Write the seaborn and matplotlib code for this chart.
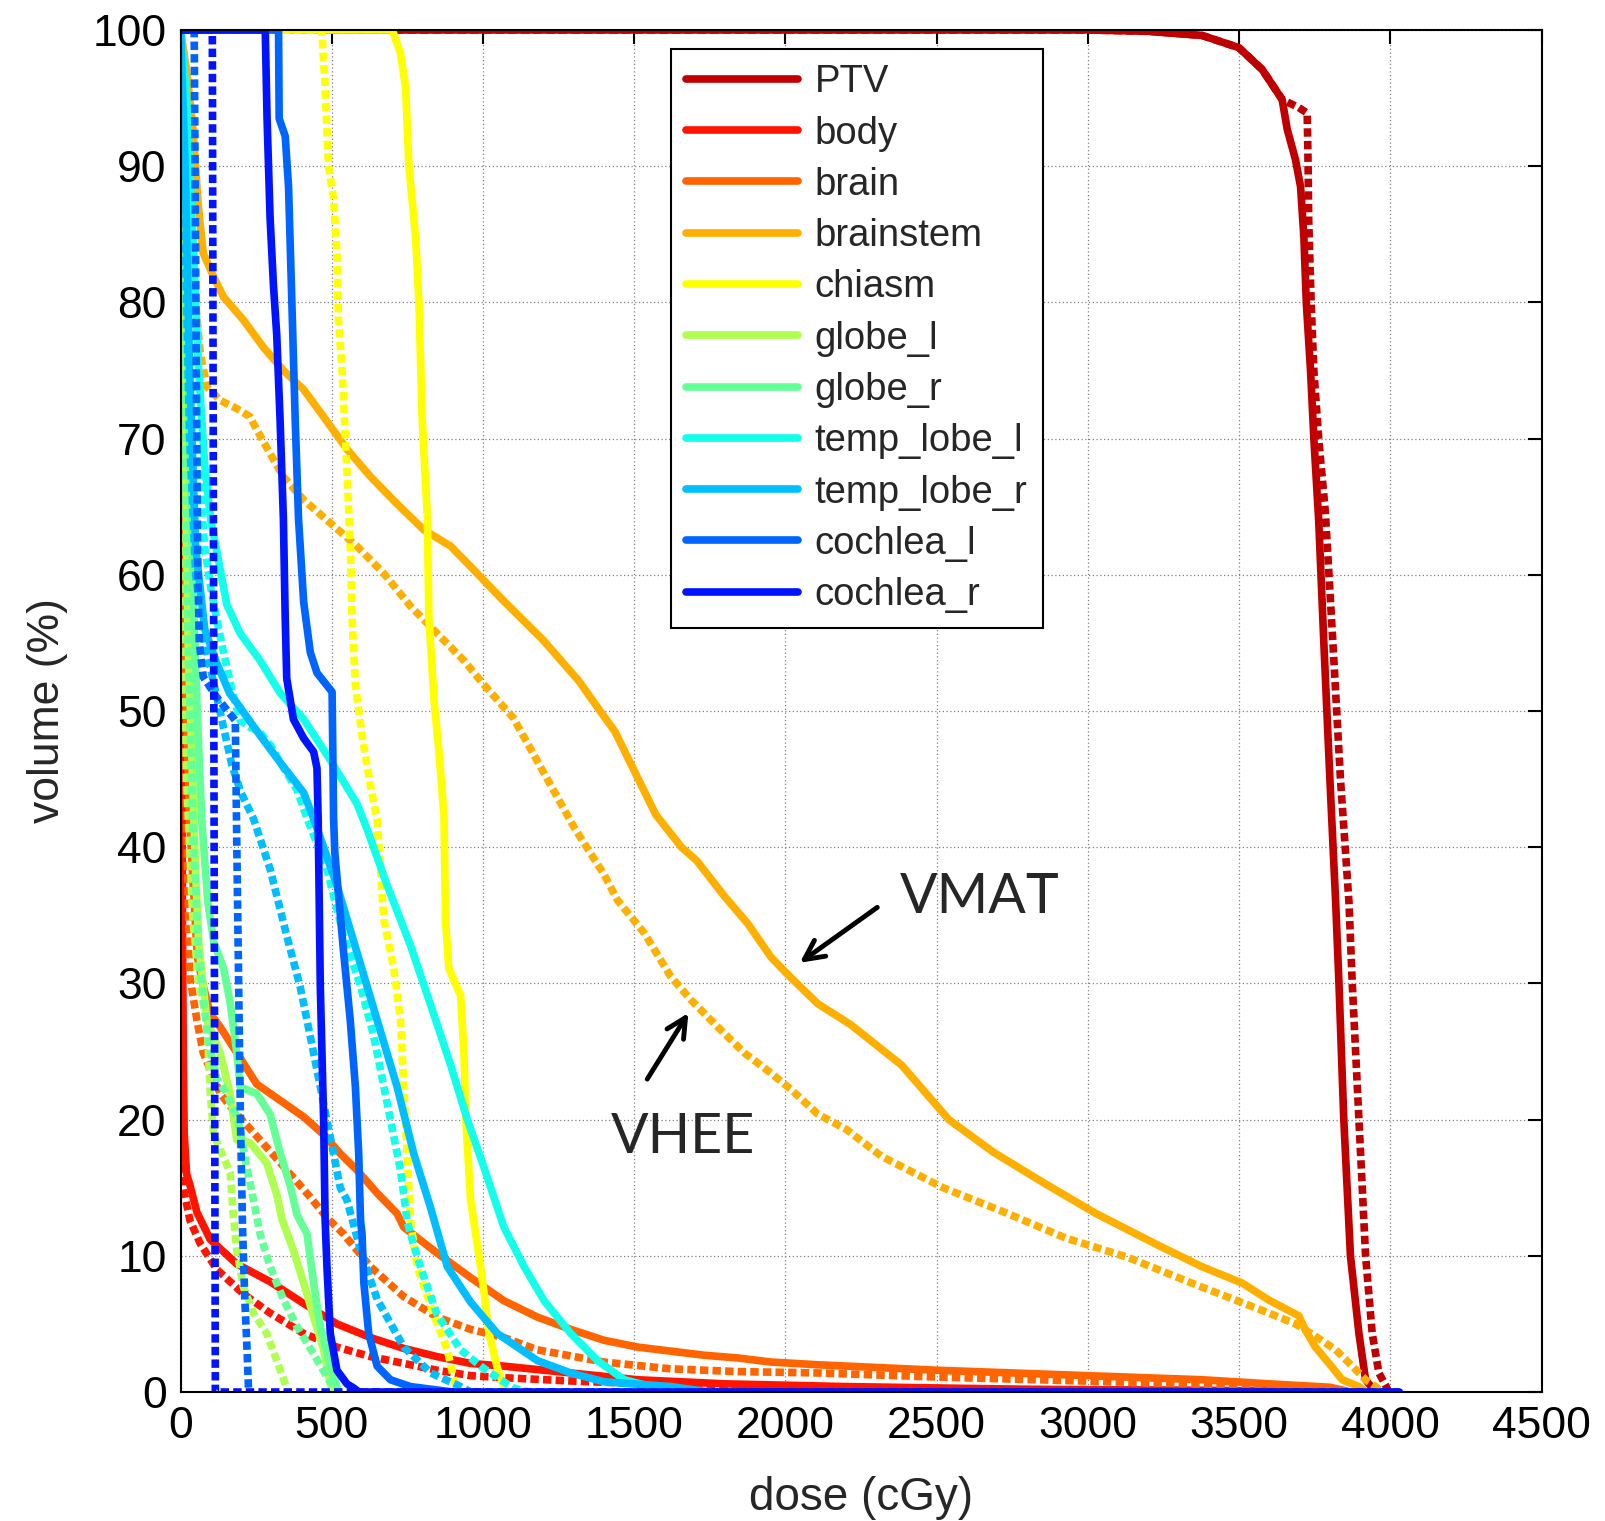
import pandas as pd
import seaborn as sns
from matplotlib import pyplot as plt

ptv_vmat = [(0, 100), (3000, 100), (3200, 99.9), (3377, 99.6), (3499, 98.7), (3576, 97.1), (3642, 94.9),
            (3659, 92.7), (3686, 90.5), (3703, 88.5), (3714, 84.8), (3722, 80), (3736, 75), (3747, 70),
            (3763, 64), (3780, 55), (3800, 45), (3819, 36), (3830, 30), (3846, 20), (3868, 10),
            (3896, 4.3), (3918, 0.9), (3940, 0.3), (3955, 0)]
ptv_vhee = [(0, 100), (3000, 100), (3200, 99.9), (3377, 99.6), (3499, 98.7), (3576, 97.1), (3642, 94.9),
            (3697, 94.3), (3725, 93.9), (3728, 90), (3730, 86), (3738, 80), (3747, 75), (3763, 70),
            (3785, 64.6), (3810, 55), (3835, 45), (3863, 36), (3874, 30), (3896, 20), (3918, 10),
            (3940, 4.3), (3962, 1.4), (3984, 0.5), (3995, 0)]

body_vmat = [(0, 100), (2, 70), (4, 50), (6, 35), (9, 25), (12, 19), (20, 16), (31, 15.2), (54, 13.2),
             (98, 11.2), (186, 9.4), (296, 8.1), (407, 6.5), (517, 5.0), (628, 4.0), (738, 3.2),
             (848, 2.6), (959, 2.1), (1069, 1.9), (1290, 1.4), (1511, 0.9), (1800, 0.6), (2200, 0.4),
             (2800, 0.2), (3500, 0.1), (3900, 0)]
body_vhee = [(0, 100), (2, 60), (4, 40), (6, 25), (9, 15), (31, 12.6), (65, 10.9), (120, 9), (208, 7.2),
             (296, 5.8), (407, 4.3), (517, 3.3), (628, 2.6), (738, 2.1), (848, 1.6), (959, 1.2),
             (1069, 1.05), (1300, 0.8), (1600, 0.55), (2000, 0.35), (2600, 0.2), (3400, 0.1), (3950, 0)]

brain_vmat = [(0, 100), (5, 80), (10, 60), (20, 50), (30, 42), (45, 36), (55, 32), (75, 29.8), (98, 27.8),
              (131, 26.8), (186, 24.9), (252, 22.6), (330, 21.4), (407, 20.2), (473, 18.9), (528, 17.5),
              (583, 16.3), (650, 14.6), (716, 13.1), (738, 12.1), (848, 10.2), (959, 8.4), (1069, 6.7),
              (1180, 5.5), (1290, 4.6), (1400, 3.8), (1511, 3.3), (1621, 3.0), (1732, 2.7), (1842, 2.5),
              (1953, 2.2), (2107, 2.0), (2500, 1.6), (3000, 1.2), (3377, 0.9), (3600, 0.6), (3800, 0.35),
              (3870, 0)]
brain_vhee = [(0, 100), (5, 70), (10, 55), (20, 42), (31, 30.5), (54, 27.3), (75, 24.9), (131, 21.9),
              (186, 20.4), (263, 18.5), (351, 16.3), (429, 14.3), (484, 12.8), (539, 11.6), (628, 9.2),
              (738, 7.0), (848, 5.5), (959, 4.6), (1069, 4.0), (1180, 3.1), (1400, 2.2), (1621, 1.7),
              (1842, 1.5), (2107, 1.4), (2500, 1.1), (3000, 0.8), (3500, 0.5), (3800, 0.25), (3860, 0)]

brainstem_vmat = [(0, 100), (20, 97), (40, 93), (59, 87), (75, 83.6), (109, 81.9), (142, 80.4), (208, 78.7),
                  (274, 76.7), (340, 75), (407, 73.6), (473, 71.6), (551, 69.2), (628, 67.2), (716, 65.2),
                  (804, 63.3), (893, 62.1), (959, 60.6), (1063, 58.2), (1199, 55.2), (1317, 52.2),
                  (1387, 50), (1436, 48.5), (1571, 42.4), (1656, 40), (1707, 39), (1798, 36.4),
                  (1875, 34.4), (1953, 31.9), (2019, 30.4), (2107, 28.5), (2214, 27), (2384, 24),
                  (2540, 20), (2688, 17.6), (2858, 15.3), (3027, 13.1), (3230, 10.8), (3377, 9.2),
                  (3510, 8.0), (3598, 6.75), (3697, 5.6), (3719, 4.55), (3752, 3.3), (3797, 2.1),
                  (3841, 0.9), (3896, 0.4), (3920, 0)]
brainstem_vhee = [(0, 100), (15, 95), (30, 88), (50, 80), (65, 76.3), (87, 73.8), (131, 72.8), (186, 72.2),
                  (230, 71.6), (241, 71.1), (296, 68.9), (340, 67.2), (407, 65.5), (495, 63.8), (583, 62.1),
                  (672, 60.1), (760, 57.7), (848, 55.7), (937, 53.7), (1000, 52), (1100, 49.5),
                  (1200, 45.5), (1300, 41.5), (1400, 38), (1445, 36.1), (1533, 33.7), (1621, 30.5),
                  (1687, 28.8), (1776, 26.8), (1864, 24.9), (1953, 23.4), (2019, 22.2), (2107, 20.4),
                  (2200, 19.3), (2318, 17.3), (2521, 15), (2724, 13.2), (2927, 11.3), (3130, 9.9),
                  (3377, 7.7), (3488, 6.75), (3598, 5.8), (3686, 5.0), (3752, 4.1), (3819, 3.1),
                  (3874, 1.9), (3918, 0.9), (3951, 0.4), (3970, 0)]

chiasm_vmat = [(0, 100), (700, 100), (727, 98.3), (744, 95.8), (755, 90), (777, 84.8), (788, 80), (799, 71.4),
               (816, 64.2), (821, 56.9), (838, 50.8), (854, 47.1), (871, 42.3), (876, 34.7), (887, 31.1),
               (926, 29.1), (937, 24.9), (943, 20), (959, 14.1), (992, 9.2), (1005, 7), (1020, 4.3),
               (1047, 1.8), (1069, 0.4), (1080, 0)]
chiasm_vhee = [(0, 100), (467, 100), (478, 95.8), (489, 90), (506, 87.6), (517, 83.6), (522, 78.7),
               (534, 75), (545, 70), (562, 61.7), (567, 56.8), (578, 51.9), (600, 48.2), (628, 44.5),
               (650, 42), (672, 34.7), (705, 31.1), (727, 27.3), (738, 22.4), (749, 17.5), (760, 12.6),
               (782, 9.2), (837, 5.7), (882, 3.1), (904, 0.9), (915, 0)]

globe_l_vmat = [(0, 100), (8, 85), (15, 70), (25, 55), (40, 45), (50, 38), (60, 33), (75, 29.8), (87, 27.3),
                (131, 24.9), (164, 21.9), (186, 18.5), (230, 18.3), (285, 16.8), (318, 14.5), (335, 12.7),
                (373, 10.4), (407, 8.0), (440, 5.5), (473, 3.1), (495, 0.6), (505, 0)]
globe_l_vhee = [(0, 100), (5, 80), (10, 60), (20, 45), (40, 35), (60, 30), (87, 27.3), (98, 22), (109, 19),
                (131, 17.8), (164, 16.1), (175, 12.8), (186, 10.4), (208, 7.7), (241, 5.8), (285, 4.3),
                (318, 2.3), (346, 0.6), (355, 0)]

globe_r_vmat = [(0, 100), (10, 90), (25, 75), (40, 60), (55, 50), (70, 42), (90, 36), (110, 33), (124, 32.2),
                (142, 31.1), (164, 28.6), (186, 24.9), (197, 22.4), (252, 21.9), (296, 20.4), (330, 17.5),
                (363, 15.1), (385, 13), (418, 11.6), (440, 8.0), (462, 4.8), (495, 1.9), (517, 0.4),
                (525, 0)]
globe_r_vhee = [(0, 100), (8, 85), (15, 70), (25, 55), (40, 42), (60, 32), (90, 26), (120, 23), (150, 22),
                (190, 20), (219, 16.5), (241, 14.1), (263, 11.6), (296, 9.2), (340, 6.8), (385, 4.8),
                (440, 2.8), (484, 1.1), (506, 0.4), (515, 0)]

temp_lobe_l_vmat = [(0, 100), (20, 95), (40, 85), (60, 75), (80, 68), (100, 64), (120, 61.7), (153, 57.8),
                    (197, 55.7), (263, 53.7), (330, 51.3), (407, 49.4), (495, 46.4), (583, 43.2),
                    (617, 41.3), (683, 37.2), (760, 32.8), (827, 28.4), (893, 24), (948, 20), (1003, 16.5),
                    (1069, 12.1), (1136, 9.2), (1202, 6.7), (1290, 4.3), (1379, 2.3), (1467, 0.9),
                    (1555, 0.4), (1620, 0)]
temp_lobe_l_vhee = [(0, 100), (20, 90), (40, 78), (60, 68), (80, 62), (100, 59), (120, 56.7), (142, 54.3),
                    (170, 51.5), (197, 49.3), (230, 48.8), (260, 48.5), (300, 47.4), (330, 46.2),
                    (385, 44.2), (420, 42), (484, 38.4), (539, 33.5), (595, 29.8), (639, 26.1), (683, 21.2),
                    (727, 16.3), (749, 12.6), (760, 11.6), (793, 9.2), (848, 5.7), (926, 3.1), (992, 1.9),
                    (1058, 0.9), (1100, 0.3), (1150, 0)]

temp_lobe_r_vmat = [(0, 100), (15, 90), (30, 75), (50, 62), (80, 56), (120, 53.5), (162, 51.3), (186, 50.6),
                    (263, 48.2), (330, 46.2), (407, 44), (440, 42.1), (517, 37.2), (583, 32.3), (650, 27.3),
                    (716, 22.4), (771, 17.5), (827, 13.5), (882, 9.2), (959, 6.6), (1047, 4.3),
                    (1180, 2.3), (1290, 1.4), (1400, 0.75), (1621, 0.4), (1750, 0)]
temp_lobe_r_vhee = [(0, 100), (15, 85), (30, 70), (50, 60), (80, 55), (110, 52), (140, 49), (170, 46),
                    (200, 44), (241, 42.1), (296, 38.4), (351, 33.5), (395, 29.8), (429, 26.1), (462, 22.4),
                    (495, 18.7), (528, 15), (550, 14.1), (595, 10.4), (650, 6.8), (738, 3.3), (827, 1.4),
                    (926, 0.4), (960, 0)]

cochlea_l_vmat = [(0, 100), (324, 100), (326, 93.5), (346, 92.2), (357, 88.5), (368, 80), (379, 71.4),
                  (390, 64.1), (407, 58), (429, 54.3), (451, 52.8), (501, 51.4), (506, 42.1), (510, 39.6),
                  (539, 32.3), (561, 27.3), (578, 22.4), (589, 17.5), (595, 12.6), (600, 11.6), (606, 8.0),
                  (622, 4.3), (650, 1.9), (694, 0.9), (760, 0.4), (900, 0)]
cochlea_l_vhee = [(0, 100), (45, 100), (48, 90), (52, 75), (56, 62), (62, 55), (75, 52.5), (120, 51),
                  (181, 49.3), (186, 40), (192, 30), (198, 20), (205, 12), (212, 7), (220, 3), (225, 0)]

cochlea_r_vmat = [(0, 100), (280, 100), (286, 93.5), (296, 86.2), (307, 81.3), (318, 77.6), (329, 71.4),
                  (340, 64.1), (346, 56.8), (351, 52.4), (373, 49.4), (407, 48), (440, 47), (451, 45.8),
                  (455, 42), (462, 29.8), (473, 20), (478, 12.6), (484, 9.2), (495, 4.3), (517, 1.6),
                  (550, 0.6), (572, 0.3), (590, 0), (4030, 0)]
cochlea_r_vhee = [(0, 100), (105, 100), (110, 50), (115, 0), (4030, 0)]

structures = ['PTV', 'body', 'brain', 'brainstem', 'chiasm', 'globe_l', 'globe_r',
              'temp_lobe_l', 'temp_lobe_r', 'cochlea_l', 'cochlea_r']
colors = ['#C00000', '#FF1400', '#FF6400', '#FFAF00', '#FFFF00', '#AFFF50', '#64FF96',
          '#14FFEB', '#00BEFF', '#0064FF', '#0014FF']

vmat = [ptv_vmat, body_vmat, brain_vmat, brainstem_vmat, chiasm_vmat, globe_l_vmat, globe_r_vmat,
        temp_lobe_l_vmat, temp_lobe_r_vmat, cochlea_l_vmat, cochlea_r_vmat]
vhee = [ptv_vhee, body_vhee, brain_vhee, brainstem_vhee, chiasm_vhee, globe_l_vhee, globe_r_vhee,
        temp_lobe_l_vhee, temp_lobe_r_vhee, cochlea_l_vhee, cochlea_r_vhee]

rows = []
for name, a, b in zip(structures, vmat, vhee):
    for d, v in a:
        rows.append({'structure': name, 'plan': 'VMAT', 'dose': d, 'volume': v})
    for d, v in b:
        rows.append({'structure': name, 'plan': 'VHEE', 'dose': d, 'volume': v})
df = pd.DataFrame(rows)

sns.set_theme(style='white')
plt.rcParams['font.family'] = ['Liberation Sans', 'DejaVu Sans']

fig = plt.figure(figsize=(16.05, 15.21), dpi=100)
ax = fig.add_axes([0.1125, 0.0848, 0.848, 0.8955])

lw = 5.5
for name, col in zip(structures, colors):
    sub = df[df['structure'] == name]
    sns.lineplot(data=sub[sub['plan'] == 'VHEE'], x='dose', y='volume', sort=False, estimator=None,
                 color=col, linewidth=lw, linestyle=(0, (1.1, 0.55)), ax=ax)
    sns.lineplot(data=sub[sub['plan'] == 'VMAT'], x='dose', y='volume', sort=False, estimator=None,
                 color=col, linewidth=lw, label=name, ax=ax)

ax.set_xlim(0, 4500)
ax.set_ylim(0, 100)
ax.set_xticks(range(0, 4501, 500))
ax.set_yticks(range(0, 101, 10))
ax.grid(True, linestyle=(0, (1, 2)), color='0.5', lw=0.9)
ax.tick_params(direction='in', top=True, right=True, length=10, width=1.5, labelsize=32, pad=10,
               colors='black')
for s in ax.spines.values():
    s.set_color('black')
    s.set_linewidth(1.5)
ax.set_xlabel('dose (cGy)', fontsize=33, labelpad=21)
ax.set_ylabel('volume (%)', fontsize=32, labelpad=18)

leg = ax.legend(loc='upper left', bbox_to_anchor=(0.36, 0.986), borderaxespad=0, fontsize=27.5,
                frameon=True, fancybox=False, edgecolor='black', framealpha=1, handlelength=2.95,
                handletextpad=0.42, labelspacing=0.4, borderpad=0.4)
leg.get_frame().set_linewidth(1.5)

ax.annotate('', xy=(2040, 31.4), xytext=(2311, 35.7),
            arrowprops=dict(arrowstyle='->', lw=3.5, color='black', mutation_scale=35))
ax.text(2379, 36.3, 'VMAT', ha='left', va='center', fontsize=40, family='Lato')
ax.annotate('', xy=(1684, 28.0), xytext=(1538, 22.8),
            arrowprops=dict(arrowstyle='->', lw=3.5, color='black', mutation_scale=35))
ax.text(1660, 18.7, 'VHEE', ha='center', va='center', fontsize=40, family='Lato')

fig.savefig('out.png', dpi=100)
